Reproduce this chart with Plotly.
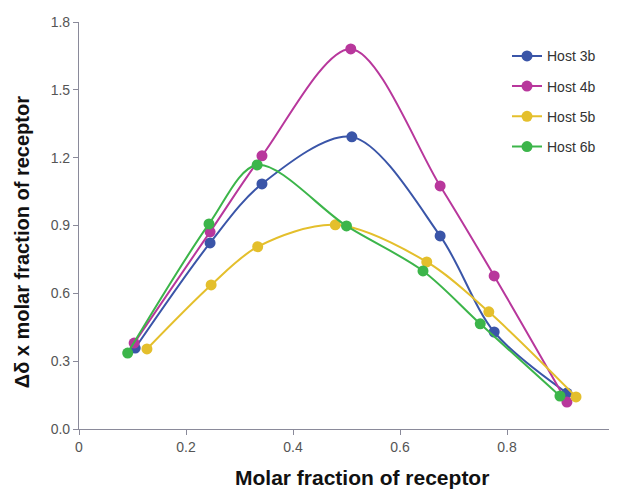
import plotly.graph_objects as go

x_3b = [0.105, 0.245, 0.342, 0.510, 0.675, 0.776, 0.912]
y_3b = [0.358, 0.823, 1.084, 1.292, 0.854, 0.429, 0.159]

x_4b = [0.103, 0.245, 0.342, 0.508, 0.675, 0.776, 0.912]
y_4b = [0.380, 0.872, 1.208, 1.681, 1.075, 0.677, 0.119]

x_5b = [0.127, 0.247, 0.334, 0.479, 0.650, 0.766, 0.929]
y_5b = [0.354, 0.637, 0.806, 0.903, 0.739, 0.518, 0.142]

x_6b = [0.091, 0.243, 0.333, 0.500, 0.643, 0.750, 0.899]
y_6b = [0.336, 0.907, 1.168, 0.898, 0.699, 0.465, 0.146]

x_title = "Molar fraction of receptor"
y_title = "Δδ x molar fraction of receptor"

series = [
    ("Host 3b", x_3b, y_3b, "#3a55a8"),
    ("Host 4b", x_4b, y_4b, "#b8379c"),
    ("Host 5b", x_5b, y_5b, "#e4bf2c"),
    ("Host 6b", x_6b, y_6b, "#3cb54a"),
]

fig = go.Figure()
for name, xs, ys, col in series:
    fig.add_trace(go.Scatter(
        x=xs, y=ys, name=name, mode="lines+markers",
        line=dict(color=col, width=2, shape="spline", smoothing=0.9),
        marker=dict(color=col, size=11),
        legendgroup=name,
    ))

# page body has an 8px margin, so the figure is shrunk/offset to compensate
fig.update_layout(
    width=609, height=482,
    margin=dict(l=71, r=3, t=14, b=61),
    paper_bgcolor="white", plot_bgcolor="white",
    font=dict(family="Liberation Sans, Arial, sans-serif", color="#555555", size=14),
    showlegend=True,
    legend=dict(x=0.8, y=0.955, xanchor="left", yanchor="top",
                font=dict(size=14, color="#333333"),
                tracegroupgap=9, bgcolor="rgba(0,0,0,0)"),
    xaxis=dict(range=[0, 1], tick0=0, dtick=0.2, showgrid=False, zeroline=False,
               automargin=False,
               showline=True, linecolor="#8a8a9a", linewidth=1.2,
               ticks="outside", ticklen=5, tickcolor="#8a8a9a"),
    yaxis=dict(range=[0, 1.8], tick0=0, dtick=0.3, tickformat=".1f",
               showgrid=False, zeroline=False, automargin=False,
               showline=True, linecolor="#8a8a9a", linewidth=1.2,
               ticks="outside", ticklen=5, tickcolor="#8a8a9a"),
    annotations=[
        dict(text="<b>" + x_title + "</b>", xref="paper", yref="paper",
             x=0.529, y=-0.120, xanchor="center", yanchor="middle",
             showarrow=False, font=dict(size=21, color="#111111")),
        dict(text="<b>" + y_title + "</b>", xref="paper", yref="paper",
             x=-0.1065, y=0.459, xanchor="center", yanchor="middle",
             textangle=-90, showarrow=False, font=dict(size=20, color="#111111")),
    ],
)

fig.write_html("out.html")
